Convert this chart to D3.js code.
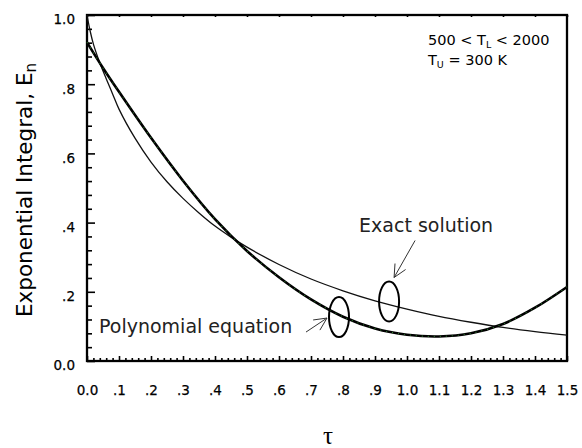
<!DOCTYPE html>
<html>
<head>
<meta charset="utf-8">
<script src="https://cdn.jsdelivr.net/npm/d3@7"></script>
<style>
  html, body { margin: 0; padding: 0; background: #fff; }
  svg { display: block; }
</style>
</head>
<body>
<script>
// ---- data ----
const exactTau = [0, 0.01, 0.02, 0.04, 0.06, 0.08, 0.1, 0.15, 0.2, 0.25, 0.3, 0.35, 0.4, 0.45, 0.5, 0.6, 0.7, 0.8, 0.9, 1.0, 1.1, 1.2, 1.3, 1.4, 1.5];
const exactE   = [1.0, 0.953, 0.916, 0.862, 0.816, 0.772, 0.728, 0.644, 0.575, 0.518, 0.47, 0.428, 0.39, 0.358, 0.329, 0.279, 0.237, 0.203, 0.174, 0.15, 0.129, 0.112, 0.097, 0.085, 0.075];
const polyTau  = [0, 0.05, 0.1, 0.2, 0.3, 0.4, 0.5, 0.6, 0.7, 0.8, 0.9, 1.0, 1.1, 1.2, 1.3, 1.4, 1.5];
const polyE    = [0.921, 0.847, 0.778, 0.645, 0.521, 0.41, 0.318, 0.242, 0.178, 0.128, 0.094, 0.076, 0.071, 0.08, 0.107, 0.154, 0.214];

const xTickValues = [0, 0.1, 0.2, 0.3, 0.4, 0.5, 0.6, 0.7, 0.8, 0.9, 1.0, 1.1, 1.2, 1.3, 1.4, 1.5];
const xTickLabels = ["0.0", ".1", ".2", ".3", ".4", ".5", ".6", ".7", ".8", ".9", "1.0", "1.1", "1.2", "1.3", "1.4", "1.5"];
const yTickValues = [0, 0.2, 0.4, 0.6, 0.8, 1.0];
const yTickLabels = ["0.0", ".2", ".4", ".6", ".8", "1.0"];

const yTitle = "Exponential Integral, E";
const yTitleSub = "n";
const xTitle = "τ";
const noteLine1 = ["500 < T", "L", " < 2000"];
const noteLine2 = ["T", "U", " = 300 K"];

// annotations (data-space anchors)
const polyEllipse  = { tau: 0.7875, e: 0.127, label: "Polynomial equation" };
const exactEllipse = { tau: 0.944,  e: 0.172, label: "Exact solution" };

// ---- layout ----
const W = 582, H = 448;
const L = 87, R = 567, T = 15, B = 361;
const FONT = "'DejaVu Sans', Verdana, sans-serif";

const svg = d3.select("body").append("svg").attr("width", W).attr("height", H)
  .attr("font-family", FONT);

const x = d3.scaleLinear().domain([0, 1.5]).range([L, R]);
const y = d3.scaleLinear().domain([0, 1.0]).range([B, T]);

// minor ticks
const yMinor = d3.range(0, 1.0001, 0.04).filter(v => Math.abs(v / 0.2 - Math.round(v / 0.2)) > 1e-6);
const xMinor = d3.range(0, 1.5001, 0.02).filter(v => Math.abs(v / 0.1 - Math.round(v / 0.1)) > 1e-6);

const gyMinor = svg.append("g").attr("transform", `translate(${L},0)`)
  .call(d3.axisLeft(y).tickValues(yMinor).tickSize(-5).tickFormat(""));
const gyMajor = svg.append("g").attr("transform", `translate(${L},0)`)
  .call(d3.axisLeft(y).tickValues(yTickValues).tickSize(-8).tickPadding(12)
    .tickFormat((d, i) => yTickLabels[i]));
gyMajor.selectAll("text").attr("dy", "0.66em").attr("x", -12);

const gxMinor = svg.append("g").attr("transform", `translate(0,${B})`)
  .call(d3.axisBottom(x).tickValues(xMinor).tickSize(-3).tickFormat(""));
const gxMajor = svg.append("g").attr("transform", `translate(0,${B})`)
  .call(d3.axisBottom(x).tickValues(xTickValues).tickSize(-5).tickPadding(24)
    .tickFormat((d, i) => xTickLabels[i]));

// top ticks
const gxTop = svg.append("g").attr("transform", `translate(0,${T})`)
  .call(d3.axisTop(x).tickValues(xTickValues).tickSize(-2).tickFormat(""));

[gyMinor, gyMajor, gxMinor, gxMajor, gxTop].forEach(g => {
  g.attr("font-family", FONT).attr("font-size", 13.5);
  g.select(".domain").remove();
  g.selectAll("line").attr("stroke", "#000").attr("stroke-width", 1.6);
  g.selectAll("text").attr("fill", "#000").attr("stroke", "#000").attr("stroke-width", 0.25);
});

// frame
svg.append("rect").attr("x", L).attr("y", T).attr("width", R - L).attr("height", B - T)
  .attr("fill", "none").attr("stroke", "#000").attr("stroke-width", 2.3);

// curves
const line = d3.line().x(d => x(d[0])).y(d => y(d[1])).curve(d3.curveCatmullRom.alpha(0.5));
const exactPts = exactTau.map((t, i) => [t, exactE[i]]);
const polyPts = polyTau.map((t, i) => [t, polyE[i]]);

svg.append("path").attr("d", line(exactPts)).attr("fill", "none")
  .attr("stroke", "#111").attr("stroke-width", 1.3);
svg.append("path").attr("d", line(polyPts)).attr("fill", "none")
  .attr("stroke", "#000").attr("stroke-width", 2.6);
svg.append("path").attr("d", line(polyPts)).attr("fill", "none")
  .attr("stroke", "#2e7d2e").attr("stroke-width", 1.1).attr("stroke-dasharray", "1 5");

// ellipses
const rx = 10, ry = 20;
[polyEllipse, exactEllipse].forEach(a => {
  svg.append("ellipse").attr("cx", x(a.tau)).attr("cy", y(a.e)).attr("rx", rx).attr("ry", ry)
    .attr("fill", "none").attr("stroke", "#000").attr("stroke-width", 2);
});

// arrows
function arrow(x1, y1, x2, y2) {
  const g = svg.append("g").attr("stroke", "#333").attr("stroke-width", 1).attr("fill", "none");
  g.append("line").attr("x1", x1).attr("y1", y1).attr("x2", x2).attr("y2", y2);
  const ang = Math.atan2(y1 - y2, x1 - x2);
  const len = 14, spread = 0.45;
  [ang - spread, ang + spread].forEach(a => {
    g.append("line").attr("x1", x2).attr("y1", y2)
      .attr("x2", x2 + len * Math.cos(a)).attr("y2", y2 + len * Math.sin(a));
  });
}
const pcx = x(polyEllipse.tau), pcy = y(polyEllipse.e);
arrow(pcx - 33, pcy + 15, pcx - 12, pcy + 1);
const ecx = x(exactEllipse.tau), ecy = y(exactEllipse.e);
arrow(ecx + 26, ecy - 61, ecx + 5, ecy - 24);

// annotation labels
svg.append("text").attr("x", pcx - 240).attr("y", pcy + 16)
  .attr("font-size", 19).attr("fill", "#222").text(polyEllipse.label);
svg.append("text").attr("x", ecx - 30).attr("y", ecy - 69)
  .attr("font-size", 19).attr("fill", "#222").text(exactEllipse.label);

// top-right note
function subText(xp, yp, parts) {
  const t = svg.append("text").attr("x", xp).attr("y", yp).attr("font-size", 14.5).attr("fill", "#000");
  t.append("tspan").text(parts[0]);
  t.append("tspan").attr("font-size", 9.5).attr("dy", 3).text(parts[1]);
  t.append("tspan").attr("dy", -3).text(parts[2]);
}
subText(428, 45, noteLine1);
subText(428, 65, noteLine2);

// y title
const yt = svg.append("text")
  .attr("transform", `translate(32,${(T + B) / 2 + 2}) rotate(-90)`)
  .attr("text-anchor", "middle").attr("font-size", 21.5).attr("fill", "#000");
yt.append("tspan").text(yTitle);
yt.append("tspan").attr("font-size", 15).attr("dy", 4).text(yTitleSub);

// x title
svg.append("text").attr("x", (L + R) / 2 + 1).attr("y", 444)
  .attr("text-anchor", "middle").attr("font-family", "'Liberation Serif', serif")
  .attr("font-size", 25).attr("fill", "#000").text(xTitle);
</script>
</body>
</html>
